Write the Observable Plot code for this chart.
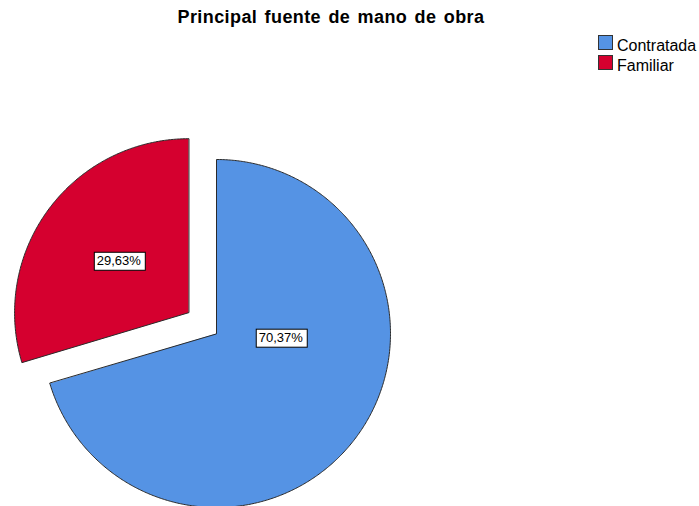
<!DOCTYPE html>
<html><head><meta charset="utf-8">
<script src="https://cdn.jsdelivr.net/npm/d3@7"></script>
<script src="https://cdn.jsdelivr.net/npm/@observablehq/plot@0.6"></script>
<style>
body{margin:0;background:#fff;font-family:"Liberation Sans",Arial,sans-serif;}
#wrap{position:relative;width:699px;height:506px;overflow:hidden;}
#wrap svg{position:absolute;left:0;top:0;}
#title{position:absolute;left:0;width:662px;top:7px;text-align:center;font-weight:bold;font-size:18px;letter-spacing:0.4px;word-spacing:2px;color:#000;white-space:nowrap;}
#legend{position:absolute;left:598px;top:35px;font-size:16px;color:#000;}
.row{position:relative;height:20px;width:101px;}
.sw{position:absolute;left:0;top:0;width:15px;height:15px;border:1px solid #333;box-sizing:border-box;}
.lt{position:absolute;left:19px;top:3px;line-height:16px;white-space:nowrap;}
</style></head>
<body>
<div id="wrap">
  <div id="title"></div>
  <div id="legend"></div>
</div>
<script>
// ---- data ----
const titulo = "Principal fuente de mano de obra";
const categorias = ["Contratada", "Familiar"];
const porcentajes = [70.37, 29.63];
const etiquetas = ["70,37%", "29,63%"];
const colores = ["#5593E4", "#D5002F"];

// ---- layout constants ----
const W = 699, H = 506, cx = 216, cy = 333, R = 174;
const explode = [0, 0.2];          // slice offset as fraction of radius
const labelR = [0.37, 0.5];        // label distance as fraction of radius
const labelA = [0.37, 0.5];        // label angle as fraction of slice span

const total = d3.sum(porcentajes);
let acc = 0;
const slices = categorias.map((c, i) => {
  const a0 = acc / total * 2 * Math.PI;
  acc += porcentajes[i];
  const a1 = acc / total * 2 * Math.PI;
  const mid = (a0 + a1) / 2;
  const ox = explode[i] * Math.sin(mid), oy = explode[i] * Math.cos(mid);
  const la = a0 + (a1 - a0) * labelA[i];
  return {cat: c, a0, a1, ox, oy,
    lx: ox + labelR[i] * Math.sin(la), ly: oy + labelR[i] * Math.cos(la), label: etiquetas[i]};
});

const poly = [];
for (const s of slices) {
  poly.push({cat: s.cat, x: s.ox, y: s.oy});
  const n = Math.ceil((s.a1 - s.a0) / (Math.PI / 360));
  for (let k = 0; k <= n; k++) {
    const a = s.a0 + (s.a1 - s.a0) * k / n;
    poly.push({cat: s.cat, x: s.ox + Math.sin(a), y: s.oy + Math.cos(a)});
  }
}

const chart = Plot.plot({
  width: W, height: H, margin: 0,
  style: {background: "transparent", fontFamily: "'Liberation Sans', Arial, sans-serif"},
  x: {domain: [-cx / R, (W - cx) / R], axis: null},
  y: {domain: [-(H - cy) / R, cy / R], axis: null},
  color: {domain: categorias, range: colores},
  marks: [
    Plot.line(poly, {x: "x", y: "y", z: "cat", fill: "cat", stroke: "#2a2a2a", strokeWidth: 1, curve: "linear-closed"}),
    Plot.text(slices, {x: "lx", y: "ly", text: "label", fontSize: 13, fill: "#000"})
  ]
});

document.getElementById("wrap").prepend(chart);
document.getElementById("title").textContent = titulo;
const leg = document.getElementById("legend");
categorias.forEach((c, i) => {
  const row = document.createElement("div"); row.className = "row";
  const sw = document.createElement("div"); sw.className = "sw"; sw.style.background = colores[i];
  const t = document.createElement("span"); t.className = "lt"; t.textContent = c;
  row.append(sw, t); leg.append(row);
});

// white boxes behind the percentage labels
chart.querySelectorAll('g[aria-label="text"] text').forEach(t => {
  const b = t.getBBox();
  const w = Math.round(b.width) + 6, h = 18;
  const mx = b.x + b.width / 2, my = b.y + b.height / 2;
  const r = document.createElementNS("http://www.w3.org/2000/svg", "rect");
  r.setAttribute("x", Math.round(mx - w / 2) + 0.5);
  r.setAttribute("y", Math.round(my - h / 2) + 0.5);
  r.setAttribute("width", w);
  r.setAttribute("height", h);
  r.setAttribute("fill", "#fff");
  r.setAttribute("stroke", "#000");
  r.setAttribute("stroke-width", 1);
  if (t.getAttribute("transform")) r.setAttribute("transform", t.getAttribute("transform"));
  t.parentNode.insertBefore(r, t);
});
</script>
</body></html>
